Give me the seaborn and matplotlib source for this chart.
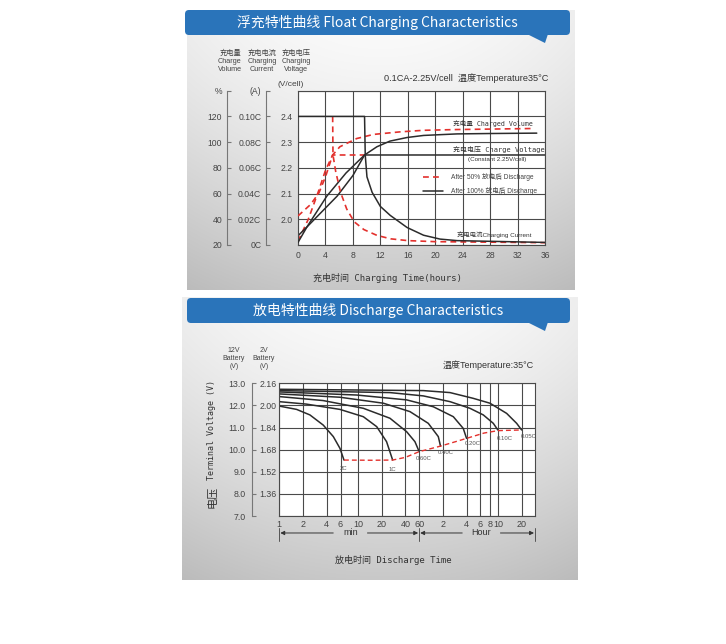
import numpy as np
import seaborn as sns
import matplotlib.pyplot as plt
from matplotlib.patches import FancyBboxPatch, Polygon
from matplotlib.lines import Line2D
from matplotlib.ticker import NullLocator

sns.set_theme(style="white")
plt.rcParams['font.family'] = ['Liberation Sans', 'Noto Sans CJK SC', 'DejaVu Sans']

W, H = 726, 644
RED = '#e3312d'
BLK = '#2b2b2b'
GRID = '#4a4a4a'
TXT = '#444444'
MONO = ['DejaVu Sans Mono', 'Noto Sans CJK SC']
CJK = ['Noto Sans CJK SC', 'DejaVu Sans']

# ---- float charging data (hours) ----
# after 100% discharge (black, solid)
t_vol_100 = [0, 1.3, 4.2, 7, 9.7, 11.5, 13.4, 15.9, 18.3, 20.7, 23.2, 28, 34.8]
vol_100 = [22, 34, 58, 76, 90, 96.4, 100.8, 103.6, 105.2, 105.8, 106.4, 106.7, 107]
t_volt_100 = [0, 1.3, 5.7, 8, 9.7, 36]
volt_100 = [1.936, 1.97, 2.09, 2.17, 2.25, 2.25]
t_cur_100 = [0, 9.7, 9.75, 9.8, 10.05, 10.8, 12.0, 13.45, 15.9, 18.3, 20.7, 23.2, 36]
cur_100 = [0.10, 0.10, 0.085, 0.07, 0.053, 0.041, 0.030, 0.023, 0.0136, 0.0076, 0.0046, 0.0034, 0.002]
# after 50% discharge (red, dashed)
t_vol_50 = [0, 1.85, 3.06, 4.03, 5.05, 6.1, 8.55, 11, 14.9, 18.3, 23.2, 34.3]
vol_50 = [42.6, 51.6, 60.6, 73.4, 90, 96.4, 102.8, 106, 108, 109.2, 109.8, 110.6]
t_volt_50 = [0, 1.5, 3, 4, 5.05, 9.7]
volt_50 = [1.915, 2.0, 2.11, 2.19, 2.25, 2.25]
t_cur_50 = [5.05, 5.1, 5.5, 6.2, 7.1, 8.2, 9.6, 11.5, 13.5, 16, 20, 36]
cur_50 = [0.10, 0.07, 0.057, 0.041, 0.028, 0.018, 0.012, 0.0075, 0.0048, 0.0034, 0.0026, 0.0018]

hours_ticks = list(range(0, 37, 4))
volt_ticks = [1.9, 2.0, 2.1, 2.2, 2.3, 2.4, 2.5]
volt_labels = ['', '2.0', '2.1', '2.2', '2.3', '2.4', '']
pct_ticks = [20, 40, 60, 80, 100, 120, 140]
pct_labels = ['20', '40', '60', '80', '100', '120', '%']
cur_ticks = [0, 0.02, 0.04, 0.06, 0.08, 0.10, 0.12]
cur_labels = ['0C', '0.02C', '0.04C', '0.06C', '0.08C', '0.10C', '(A)']

# ---- discharge data (minutes, 12V battery volts) ----
rate_labels = ['2C', '1C', '0.60C', '0.40C', '0.20C', '0.10C', '0.05C']
t_2c = [1, 1.66, 2.45, 3.62, 4.86, 5.9, 6.64]
v_2c = [11.97, 11.82, 11.57, 11.11, 10.59, 10.06, 9.53]
t_1c = [1, 2.2, 5.9, 11.7, 17.3, 23.1, 27.6]
v_1c = [12.17, 12.06, 11.82, 11.49, 11.04, 10.36, 9.53]
t_06c = [1, 3.6, 11.7, 25.5, 41.6, 53, 60]
v_06c = [12.40, 12.22, 11.87, 11.42, 10.81, 10.36, 9.91]
t_04c = [1, 5.9, 21, 45.8, 78.3, 105, 112]
v_04c = [12.52, 12.37, 12.10, 11.72, 11.19, 10.59, 10.16]
t_02c = [1, 9.6, 41.6, 90.7, 163, 218, 240]
v_02c = [12.61, 12.47, 12.25, 11.94, 11.49, 10.96, 10.51]
t_01c = [1, 25.5, 67.8, 148, 265, 392, 525, 600]
v_01c = [12.67, 12.58, 12.43, 12.17, 11.87, 11.57, 11.19, 10.89]
t_005c = [1, 67.8, 148, 292, 476, 776, 1040, 1203]
v_005c = [12.73, 12.67, 12.58, 12.32, 12.10, 11.64, 11.19, 10.89]
t_end = [6.64, 15, 27.6, 40, 60, 112, 170, 240, 400, 600, 1203]
v_end = [9.53, 9.52, 9.53, 9.65, 9.91, 10.16, 10.35, 10.51, 10.75, 10.86, 10.89]
label_offsets = [(0, -6), (0, -6.5), (3, -5), (4, -4.5), (4.5, -4), (5, -6.5), (5, -4.5)]

min_ticks = [1, 2, 4, 6, 10, 20, 40, 60, 120, 240, 360, 480, 600, 1200]
min_labels = ['1', '2', '4', '6', '10', '20', '40', '60', '2', '4', '6', '8', '10', '20']
y12_ticks = [7, 8, 9, 10, 11, 12, 13]
y12_labels = ['7.0', '8.0', '9.0', '10.0', '11.0', '12.0', '13.0']
y2_labels = ['', '1.36', '1.52', '1.68', '1.84', '2.00', '2.16']


def box(x0, y0, x1, y1):
    return [x0 / W, 1 - y1 / H, (x1 - x0) / W, (y1 - y0) / H]


fig = plt.figure(figsize=(W / 100, H / 100), dpi=100)

# background: grey panels and blue banners
bg = fig.add_axes([0, 0, 1, 1], zorder=-5)


def panel(x0, y0, x1, y1):
    yy = np.linspace(0, 1, 200)[:, None]
    xx = np.linspace(-1, 1, 200)[None, :]
    shade = 0.985 - 0.20 * yy ** 1.4 - 0.05 * xx ** 2
    img = np.repeat(shade[:, :, None], 3, axis=2)
    bg.imshow(img, extent=(x0, x1, y1, y0), aspect='auto', interpolation='bilinear', zorder=0)


def banner(x0, y0, x1, y1, text):
    bg.add_patch(FancyBboxPatch((x0, y0), x1 - x0, y1 - y0,
                                boxstyle='round,pad=0,rounding_size=4',
                                fc='#2a74ba', ec='none', zorder=2))
    bg.add_patch(Polygon([(x1 - 43, y1 - 1), (x1 - 22, y1 - 1), (x1 - 25, y1 + 8)],
                         closed=True, fc='#2a74ba', ec='none', zorder=2))
    bg.text((x0 + x1) / 2, (y0 + y1) / 2, text, color='white', fontsize=10,
            ha='center', va='center', family=CJK, zorder=3)


panel(187, 10, 575, 290)
panel(182, 297, 578, 580)
banner(185, 10, 570, 35, '浮充特性曲线 Float Charging Characteristics')
banner(187, 298, 570, 323, '放电特性曲线 Discharge Characteristics')
bg.set_xlim(0, W)
bg.set_ylim(H, 0)
bg.axis('off')

# ================= float charging chart =================
ax1 = fig.add_axes(box(298, 90.7, 545, 245))
ax1.set_facecolor('white')
ax1.set_xlim(0, 36)
ax1.set_ylim(1.9, 2.5)
ax1.set_xticks(hours_ticks)
ax1.set_yticks(volt_ticks)
ax1.set_yticklabels(volt_labels)
ax1.grid(True, color=GRID, lw=0.8)
ax1.tick_params(length=0, labelsize=6.2, colors=TXT)
ax1.tick_params(axis='y', pad=4)
ax1.tick_params(axis='x', pad=4)
for s in ax1.spines.values():
    s.set_color(GRID)
    s.set_linewidth(0.8)


def side_axis(parent, outward, lim, ticks, labels):
    a = parent.twinx()
    a.set_ylim(*lim)
    a.yaxis.set_ticks_position('left')
    a.spines['left'].set_position(('outward', outward))
    a.spines['left'].set_visible(True)
    a.spines['left'].set_color('#777777')
    a.spines['left'].set_linewidth(0.8)
    for s in ['right', 'top', 'bottom']:
        a.spines[s].set_visible(False)
    a.set_yticks(ticks)
    a.set_yticklabels(labels)
    a.tick_params(axis='y', left=True, right=False, labelleft=True, labelright=False,
                  direction='in', length=3, width=0.8, pad=3.5, labelsize=6.2,
                  colors=TXT)
    a.tick_params(axis='y', color='#777777')
    return a


ax_pct = side_axis(ax1, 51, (20, 140), pct_ticks, pct_labels)
ax_cur = side_axis(ax1, 23, (0, 0.12), cur_ticks, cur_labels)

dash = (0, (3.5, 2.5))
sns.lineplot(x=t_volt_50, y=volt_50, ax=ax1, color=RED, lw=1.2, linestyle=dash, sort=False, estimator=None)
sns.lineplot(x=t_volt_100, y=volt_100, ax=ax1, color=BLK, lw=1.1, sort=False, estimator=None)
sns.lineplot(x=t_vol_50, y=vol_50, ax=ax_pct, color=RED, lw=1.2, linestyle=dash, sort=False, estimator=None)
sns.lineplot(x=t_vol_100, y=vol_100, ax=ax_pct, color=BLK, lw=1.1, sort=False, estimator=None)
sns.lineplot(x=t_cur_50, y=cur_50, ax=ax_cur, color=RED, lw=1.2, linestyle=dash, sort=False, estimator=None)
sns.lineplot(x=t_cur_100, y=cur_100, ax=ax_cur, color=BLK, lw=1.1, sort=False, estimator=None)
for a in (ax1, ax_pct, ax_cur):
    a.set_xlabel('')
    a.set_ylabel('')
ax1.set_xlim(0, 36)

tr = ax_cur.transAxes
ax_cur.text(0.951, 0.79, '充电量 Charged Volume', transform=tr, ha='right', va='center',
            fontsize=4.8, family=MONO, color='#333')
ax_cur.text(1.0, 0.616, '充电电压 Charge Voltage', transform=tr, ha='right', va='center',
            fontsize=5.0, family=MONO, color='#333')
ax_cur.text(0.806, 0.557, '(Constant 2.25V/cell)', transform=tr, ha='center', va='center',
            fontsize=4.5, color='#333')
ax_cur.text(0.947, 0.065, '充电电流Charging Current', transform=tr, ha='right', va='center',
            fontsize=4.6, color='#333')
ax_cur.text(1.012, 1.082, '0.1CA-2.25V/cell  温度Temperature35°C', transform=tr,
            ha='right', va='center', fontsize=6.6, color='#333')
ax_cur.text(-0.028, 1.04, '(V/cell)', transform=tr, ha='center', va='center',
            fontsize=6, color=TXT)

handles = [Line2D([], [], color=RED, lw=1.2, linestyle=dash),
           Line2D([], [], color=BLK, lw=1.1)]
ax_cur.legend(handles, ['After 50% 放电后 Discharge', 'After 100% 放电后 Discharge'],
              loc='upper left', bbox_to_anchor=(0.505, 0.465), frameon=False,
              fontsize=4.8, handlelength=3.0, handletextpad=1.3, labelspacing=0.9,
              borderpad=0, borderaxespad=0, labelcolor='#444')

for x, txt in [(230, '充电量\nCharge\nVolume'), (262, '充电电流\nCharging\nCurrent'),
               (296, '充电电压\nCharging\nVoltage')]:
    fig.text(x / W, 1 - 61 / H, txt, ha='center', va='center', fontsize=5.2,
             linespacing=1.25, color=TXT)
fig.text(387 / W, 1 - 278 / H, '充电时间 Charging Time(hours)', ha='center', va='center',
         fontsize=6.5, family=MONO, color='#333')

# ================= discharge chart =================
ax2 = fig.add_axes(box(279.3, 383.3, 535, 516))
ax2.set_facecolor('white')
ax2.set_xscale('log')
ax2.set_xlim(1, 1780)
ax2.set_ylim(7, 13)

discharge = [(t_2c, v_2c), (t_1c, v_1c), (t_06c, v_06c), (t_04c, v_04c),
             (t_02c, v_02c), (t_01c, v_01c), (t_005c, v_005c)]
for t, v in discharge:
    sns.lineplot(x=t, y=v, ax=ax2, color=BLK, lw=1.1, sort=False, estimator=None)
sns.lineplot(x=t_end, y=v_end, ax=ax2, color=RED, lw=1.0, linestyle=(0, (3.5, 2.2)),
             sort=False, estimator=None)
for (t, v), lab, off in zip(discharge, rate_labels, label_offsets):
    ax2.annotate(lab, xy=(t[-1], v[-1]), xytext=off, textcoords='offset points',
                 ha='center', va='center', fontsize=4.3, color='#555')

ax2.set_xlabel('')
ax2.set_ylabel('')
ax2.set_xlim(1, 1780)
ax2.set_ylim(7, 13)
ax2.set_xticks(min_ticks)
ax2.set_xticklabels(min_labels)
ax2.xaxis.set_minor_locator(NullLocator())
ax2.set_yticks(y12_ticks)
ax2.set_yticklabels(y12_labels)
ax2.grid(True, color=GRID, lw=0.8)
ax2.tick_params(length=0, colors=TXT)
ax2.tick_params(axis='y', pad=24.5, labelsize=6.3)
ax2.tick_params(axis='x', pad=3, labelsize=6.5)
for s in ax2.spines.values():
    s.set_color(GRID)
    s.set_linewidth(0.8)

ax2v = ax2.twinx()
ax2v.set_ylim(7, 13)
ax2v.spines['right'].set_position(('axes', (252 - 279.3) / 255.7))
ax2v.spines['right'].set_color('#777777')
ax2v.spines['right'].set_linewidth(0.8)
for s in ['left', 'top', 'bottom']:
    ax2v.spines[s].set_visible(False)
ax2v.set_yticks(y12_ticks)
ax2v.set_yticklabels(y2_labels)
ax2v.tick_params(axis='y', right=True, left=False, labelright=True, labelleft=False,
                 direction='out', length=3, width=0.8, pad=2.5, labelsize=6.3,
                 colors=TXT)
ax2v.tick_params(axis='y', color='#777777')

# min / Hour arrows below the time axis
xt = ax2.get_xaxis_transform()
arr = dict(arrowstyle='-|>', color='#333', lw=0.7, mutation_scale=6, shrinkA=0, shrinkB=0)
for lo, hi, mid, gap, word in [(1, 60, 8.0, 1.65, 'min'), (60, 1780, 370, 1.75, 'Hour')]:
    ax2.annotate('', xy=(lo * 1.03, -0.128), xytext=(mid / gap, -0.128), xycoords=xt,
                 textcoords=xt, arrowprops=arr, annotation_clip=False)
    ax2.annotate('', xy=(hi / 1.03, -0.128), xytext=(mid * gap, -0.128), xycoords=xt,
                 textcoords=xt, arrowprops=arr, annotation_clip=False)
    ax2.text(mid, -0.128, word, transform=xt, ha='center', va='center', fontsize=6.5,
             color='#333')
for xb in (1, 60, 1780):
    ax2.plot([xb, xb], [-0.09, -0.19], transform=xt, color='#555', lw=0.7, clip_on=False)

ax2.text(0.996, 1.138, '温度Temperature:35°C', transform=ax2.transAxes, ha='right',
         va='center', fontsize=6.5, color='#333')

for x, txt in [(234, '12V\nBattery\n(V)'), (264, '2V\nBattery\n(V)')]:
    fig.text(x / W, 1 - 358 / H, txt, ha='center', va='center', fontsize=5.0,
             linespacing=1.2, color=TXT)
fig.text(212 / W, 1 - 430 / H, 'Terminal Voltage (V)', rotation=90, ha='center',
         va='center', fontsize=6, family=MONO, color='#333')
fig.text(212 / W, 1 - 497 / H, '电压', rotation=90, ha='center', va='center',
         fontsize=8, family=CJK, color='#333')
fig.text(393 / W, 1 - 560 / H, '放电时间 Discharge Time', ha='center', va='center',
         fontsize=6.5, family=MONO, color='#333')

fig.savefig('out.png', dpi=100)
